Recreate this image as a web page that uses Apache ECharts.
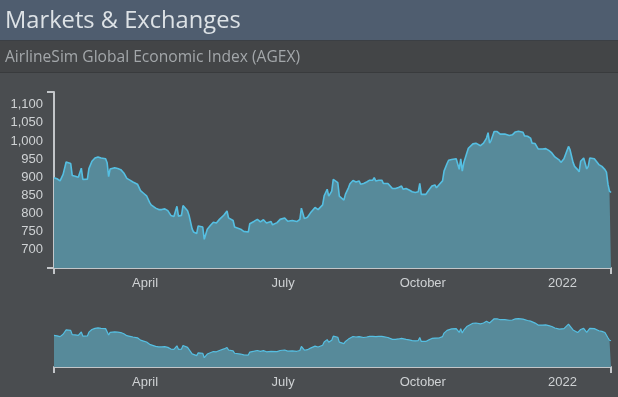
<!DOCTYPE html>
<html>
<head>
<meta charset="utf-8">
<title>AGEX</title>
<script src="https://cdn.jsdelivr.net/npm/echarts@6/dist/echarts.min.js"></script>
<style>
html,body{margin:0;padding:0;background:#4a4d50;}
#agex_chart{width:618px;height:397px;}
</style>
</head>
<body>
<div id="agex_chart"></div>
<script>
// AGEX index, one point every day or two, day 0 = startDate
var startDate = '2021-01-31';
var dayOffsets = [
	0,2,4,6,8,9,11,12,14,16,
	17,18,19,22,23,25,27,29,31,34,
	35,36,37,40,41,42,44,46,48,50,
	52,55,57,59,61,63,64,67,69,71,
	73,75,77,79,80,81,82,84,85,88,
	89,91,92,94,95,98,99,101,103,105,
	107,109,112,114,115,118,119,123,125,128,
	129,132,134,136,138,140,143,144,147,149,
	152,154,157,158,160,162,163,165,167,169,
	172,174,177,178,180,181,183,184,185,187,
	188,191,192,194,195,197,199,201,202,204,
	206,208,210,211,212,214,216,217,220,221,
	223,225,227,229,230,232,234,236,238,240,
	241,242,245,247,249,251,252,254,256,257,
	259,260,262,265,266,267,268,269,270,272,
	273,276,278,279,281,283,285,286,287,288,
	290,292,293,294,297,298,300,302,304,306,
	309,310,312,314,315,317,319,322,324,326,
	328,330,331,333,334,336,337,339,340,342,
	343,345,346,347,349,350,351,352,353,356,
	357,359,361,363,364,365,366,367
];
var agexValues = [
	899,896,890,908,942,943,938,905,903,900,
	899,925,894,895,924,944,953,956,953,951,
	940,902,923,926,930,924,921,912,897,892,
	887,881,863,856,849,831,824,815,811,811,
	813,808,795,792,797,820,793,795,822,808,
	795,758,749,745,766,763,729,757,767,776,
	774,784,796,807,788,781,763,757,751,749,
	772,779,784,777,783,774,778,769,775,784,
	788,779,781,786,778,784,815,786,790,802,
	817,811,824,849,867,848,862,894,892,885,
	848,837,853,871,882,891,887,890,881,883,
	887,892,892,899,890,892,892,883,883,881,
	869,869,872,876,867,869,865,860,858,860,
	883,853,853,865,876,879,871,881,890,917,
	938,947,949,951,951,922,951,917,940,967,
	980,992,994,996,987,994,1008,1023,994,1002,
	1026,1026,1030,1019,1019,1023,1015,1017,1025,1027,
	1024,1014,1013,1008,994,993,978,978,979,974,
	967,956,951,947,941,951,955,985,976,941,
	930,921,915,944,953,953,923,930,953,951,
	947,935,930,921,914,881,862,858
];
var tickDates = ['2021-04-01','2021-07-01','2021-10-01','2022-01-01'];
var tickLabels = ['April','July','October','2022'];

var DAY = 86400000;
var t0 = new Date(startDate).getTime();
var tEnd = t0 + dayOffsets[dayOffsets.length - 1] * DAY;
var tickTimes = tickDates.map(function(d){ return new Date(d).getTime(); });

var seriesData = [];
for (var i = 0; i < dayOffsets.length; i++) {
	seriesData.push([t0 + dayOffsets[i] * DAY, agexValues[i]]);
}

function monthLabel(val){
	var k = tickTimes.indexOf(val);
	return k >= 0 ? tickLabels[k] : '';
}
function thousands(v){
	return String(v).replace(/\B(?=(\d{3})+(?!\d))/g, ',');
}

var axisGray = '#c3c6c9';
var labelStyle = {color: '#cfd2d4', fontFamily: 'Liberation Sans, Arial, sans-serif', fontSize: 13};

var myChart = echarts.init(document.getElementById('agex_chart'));
var option = {
	backgroundColor: '#4a4d50',
	animation: false,
	graphic: [
		{type: 'rect', shape: {x: 0, y: 0, width: 618, height: 40}, style: {fill: '#4f5d6f'}, silent: true},
		{type: 'rect', shape: {x: 0, y: 40, width: 618, height: 1}, style: {fill: '#3b3f44'}, silent: true},
		{type: 'rect', shape: {x: 0, y: 41, width: 618, height: 31}, style: {fill: '#434547'}, silent: true},
		{type: 'rect', shape: {x: 0, y: 72, width: 618, height: 1}, style: {fill: '#393b3d'}, silent: true},
		{type: 'text', x: 5, y: 21.5, silent: true, style: {
			text: 'Markets & Exchanges', fill: '#dde2e6', verticalAlign: 'middle',
			font: '23.7px "Open Sans", sans-serif'
		}},
		{type: 'text', x: 5, y: 57.5, silent: true, style: {
			text: 'AirlineSim Global Economic Index (AGEX)', fill: '#a3a7aa', verticalAlign: 'middle',
			font: '15.6px "Open Sans", sans-serif'
		}}
	],
	grid: [
		{left: 54, right: 7, top: 92, bottom: 129},
		{left: 54, right: 7, top: 315, bottom: 30}
	],
	xAxis: [
		{
			type: 'value', gridIndex: 0, min: t0, max: tEnd,
			axisLine: {lineStyle: {color: axisGray, width: 2}},
			axisTick: {show: true, customValues: [t0, tEnd], length: 6, lineStyle: {color: axisGray, width: 2}},
			axisLabel: Object.assign({customValues: tickTimes, formatter: monthLabel, margin: 9}, labelStyle),
			splitLine: {show: false}
		},
		{
			type: 'value', gridIndex: 1, min: t0, max: tEnd,
			axisLine: {lineStyle: {color: axisGray, width: 2}},
			axisTick: {show: true, customValues: [t0, tEnd], length: 6, lineStyle: {color: axisGray, width: 2}},
			axisLabel: Object.assign({customValues: tickTimes, formatter: monthLabel, margin: 9}, labelStyle),
			splitLine: {show: false}
		}
	],
	yAxis: [
		{
			type: 'value', gridIndex: 0, min: 650, max: 1135, interval: 50,
			axisLine: {show: true, lineStyle: {color: axisGray, width: 2}},
			axisTick: {show: true, customValues: [650, 1135], length: 7, lineStyle: {color: axisGray, width: 2}},
			axisLabel: Object.assign({
				margin: 11,
				formatter: function(v){ return (v < 700 || v > 1100) ? '' : thousands(v); }
			}, labelStyle),
			splitLine: {show: false}
		},
		{
			type: 'value', gridIndex: 1, min: 658, max: 1055, show: false, splitLine: {show: false}
		}
	],
	series: [
		{
			name: 'AGEX', type: 'line', xAxisIndex: 0, yAxisIndex: 0,
			data: seriesData, showSymbol: false,
			lineStyle: {color: '#55bfe2', width: 1.6},
			areaStyle: {color: '#578a9a', opacity: 1}
		},
		{
			name: 'navigator', type: 'line', xAxisIndex: 1, yAxisIndex: 1,
			data: seriesData, showSymbol: false,
			lineStyle: {color: '#55bfe2', width: 1.2},
			areaStyle: {color: '#578a9a', opacity: 1}
		}
	]
};
myChart.setOption(option);
</script>
</body>
</html>
